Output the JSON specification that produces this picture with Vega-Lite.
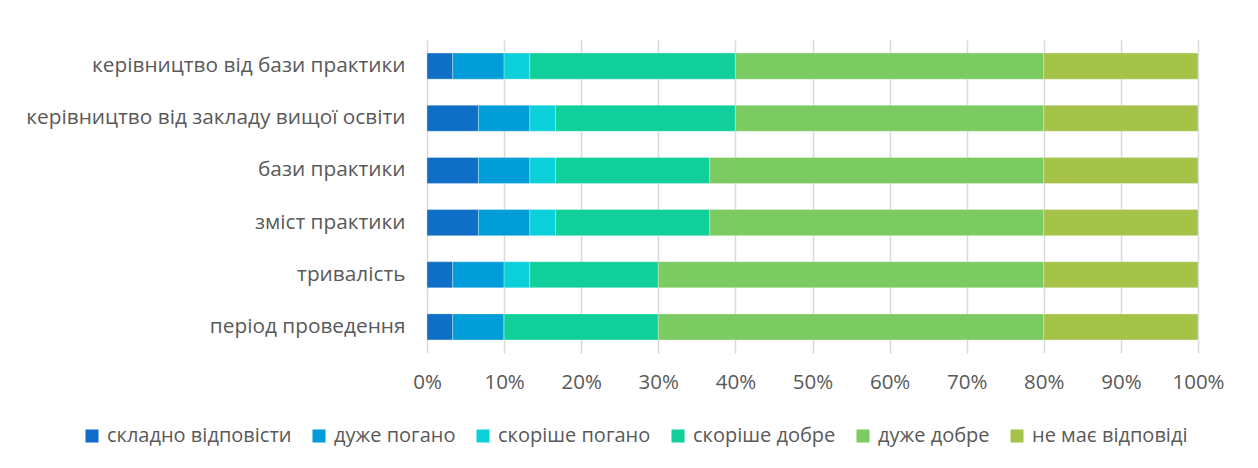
{
  "$schema": "https://vega.github.io/schema/vega-lite/v6.json",
  "width": 771,
  "height": 313,
  "autosize": {"type": "none"},
  "padding": {"left": 427, "top": 40, "right": 60, "bottom": 115},
  "background": "white",
  "config": {
    "view": {"stroke": null},
    "font": "Open Sans"
  },
  "data": {
    "values": [
      {"cat": "керівництво від бази практики", "resp": "складно відповісти", "o": 1, "v": 3.33},
      {"cat": "керівництво від бази практики", "resp": "дуже погано", "o": 2, "v": 6.67},
      {"cat": "керівництво від бази практики", "resp": "скоріше погано", "o": 3, "v": 3.33},
      {"cat": "керівництво від бази практики", "resp": "скоріше добре", "o": 4, "v": 26.67},
      {"cat": "керівництво від бази практики", "resp": "дуже добре", "o": 5, "v": 40},
      {"cat": "керівництво від бази практики", "resp": "не має відповіді", "o": 6, "v": 20},
      {"cat": "керівництво від закладу вищої освіти", "resp": "складно відповісти", "o": 1, "v": 6.67},
      {"cat": "керівництво від закладу вищої освіти", "resp": "дуже погано", "o": 2, "v": 6.67},
      {"cat": "керівництво від закладу вищої освіти", "resp": "скоріше погано", "o": 3, "v": 3.33},
      {"cat": "керівництво від закладу вищої освіти", "resp": "скоріше добре", "o": 4, "v": 23.33},
      {"cat": "керівництво від закладу вищої освіти", "resp": "дуже добре", "o": 5, "v": 40},
      {"cat": "керівництво від закладу вищої освіти", "resp": "не має відповіді", "o": 6, "v": 20},
      {"cat": "бази практики", "resp": "складно відповісти", "o": 1, "v": 6.67},
      {"cat": "бази практики", "resp": "дуже погано", "o": 2, "v": 6.67},
      {"cat": "бази практики", "resp": "скоріше погано", "o": 3, "v": 3.33},
      {"cat": "бази практики", "resp": "скоріше добре", "o": 4, "v": 20},
      {"cat": "бази практики", "resp": "дуже добре", "o": 5, "v": 43.33},
      {"cat": "бази практики", "resp": "не має відповіді", "o": 6, "v": 20},
      {"cat": "зміст практики", "resp": "складно відповісти", "o": 1, "v": 6.67},
      {"cat": "зміст практики", "resp": "дуже погано", "o": 2, "v": 6.67},
      {"cat": "зміст практики", "resp": "скоріше погано", "o": 3, "v": 3.33},
      {"cat": "зміст практики", "resp": "скоріше добре", "o": 4, "v": 20},
      {"cat": "зміст практики", "resp": "дуже добре", "o": 5, "v": 43.33},
      {"cat": "зміст практики", "resp": "не має відповіді", "o": 6, "v": 20},
      {"cat": "тривалість", "resp": "складно відповісти", "o": 1, "v": 3.33},
      {"cat": "тривалість", "resp": "дуже погано", "o": 2, "v": 6.67},
      {"cat": "тривалість", "resp": "скоріше погано", "o": 3, "v": 3.33},
      {"cat": "тривалість", "resp": "скоріше добре", "o": 4, "v": 16.67},
      {"cat": "тривалість", "resp": "дуже добре", "o": 5, "v": 50},
      {"cat": "тривалість", "resp": "не має відповіді", "o": 6, "v": 20},
      {"cat": "період проведення", "resp": "складно відповісти", "o": 1, "v": 3.33},
      {"cat": "період проведення", "resp": "дуже погано", "o": 2, "v": 6.67},
      {"cat": "період проведення", "resp": "скоріше погано", "o": 3, "v": 0},
      {"cat": "період проведення", "resp": "скоріше добре", "o": 4, "v": 20},
      {"cat": "період проведення", "resp": "дуже добре", "o": 5, "v": 50},
      {"cat": "період проведення", "resp": "не має відповіді", "o": 6, "v": 20}
    ]
  },
  "mark": {"type": "bar", "stroke": "white", "strokeWidth": 0.5, "strokeOpacity": 0.6},
  "encoding": {
    "y": {
      "field": "cat",
      "type": "nominal",
      "sort": null,
      "scale": {"paddingInner": 0.5, "paddingOuter": 0.25},
      "axis": {
        "title": null,
        "ticks": false,
        "domain": false,
        "labelFontSize": 20.8,
        "labelColor": "#595959",
        "labelPadding": 22,
        "labelLimit": 500
      }
    },
    "x": {
      "field": "v",
      "type": "quantitative",
      "stack": "normalize",
      "scale": {"domain": [0, 1]},
      "axis": {
        "title": null,
        "format": ".0%",
        "values": [0, 0.1, 0.2, 0.3, 0.4, 0.5, 0.6, 0.7, 0.8, 0.9, 1],
        "grid": true,
        "gridColor": "#D9D9D9",
        "gridWidth": 1.5,
        "domain": false,
        "ticks": false,
        "labelFontSize": 20.5,
        "labelColor": "#595959",
        "labelPadding": 19,
        "labelFlush": false
      }
    },
    "color": {
      "field": "resp",
      "type": "nominal",
      "sort": ["складно відповісти", "дуже погано", "скоріше погано", "скоріше добре", "дуже добре", "не має відповіді"],
      "scale": {
        "domain": ["складно відповісти", "дуже погано", "скоріше погано", "скоріше добре", "дуже добре", "не має відповіді"],
        "range": ["#0F6FC6", "#009DD9", "#0BD0D9", "#10CF9B", "#7CCA62", "#A5C249"]
      },
      "legend": {
        "title": null,
        "orient": "none",
        "direction": "horizontal",
        "legendX": -345,
        "legendY": 386,
        "symbolType": "square",
        "symbolSize": 170,
        "symbolStrokeWidth": 0,
        "symbolOffset": 0,
        "labelFontSize": 20,
        "labelColor": "#595959",
        "labelOffset": 5,
        "columnPadding": 17,
        "labelLimit": 400
      }
    },
    "order": {"field": "o", "type": "quantitative"}
  }
}
